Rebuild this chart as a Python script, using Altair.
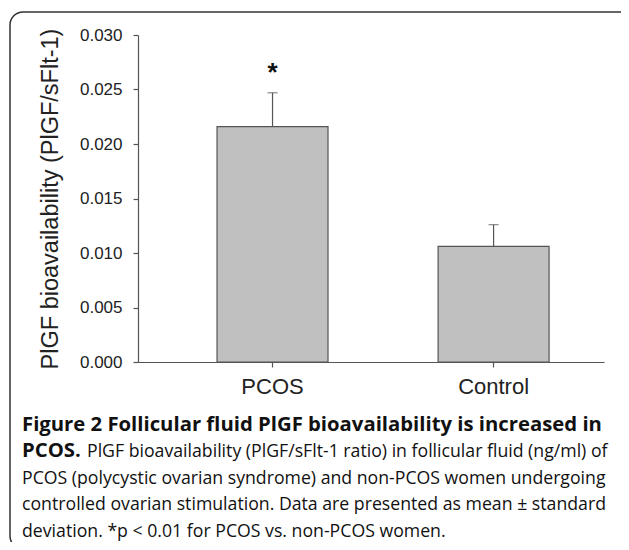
import altair as alt
import pandas as pd

# ---- data ----
groups = ["PCOS", "Control"]
means = [0.0216, 0.0106]
sds = [0.0031, 0.0020]
marks = ["*", ""]
y_ticks = [0.0, 0.005, 0.010, 0.015, 0.020, 0.025, 0.030]
y_title = "PlGF bioavailability (PlGF/sFlt-1)"

caption_bold = ["Figure 2 Follicular fluid PlGF bioavailability is increased in", "PCOS."]
caption_regular = [
    "PlGF bioavailability (PlGF/sFlt-1 ratio) in follicular fluid (ng/ml) of",
    "PCOS (polycystic ovarian syndrome) and non-PCOS women undergoing",
    "controlled ovarian stimulation. Data are presented as mean \u00b1 standard",
    "deviation. *p < 0.01 for PCOS vs. non-PCOS women.",
]

df = pd.DataFrame({
    "group": groups,
    "mean": means,
    "upper": [m + s for m, s in zip(means, sds)],
    "mark": marks,
})

W, H = 466, 327
AX = "#555555"
FONT = "Liberation Sans"
CAP_FONT = "Open Sans"

xenc = alt.X("group:N", sort=groups,
             scale=alt.Scale(paddingInner=0.498, paddingOuter=0.303, align=0.59),
             axis=alt.Axis(title="", labelAngle=0, labelFont=FONT, labelFontSize=22,
                           labelColor="#222222", labelPadding=9, tickSize=5,
                           tickColor=AX, domainColor=AX, tickWidth=1.2, domainWidth=1.2))
yscale = alt.Scale(domain=[0, 0.03], nice=False)

bars = alt.Chart(df).mark_bar(fill="#c0c0c0", stroke=AX, strokeWidth=1.2).encode(
    x=xenc,
    y=alt.Y("mean:Q", scale=yscale,
            axis=alt.Axis(values=y_ticks, format=".3f", grid=False, title=y_title,
                          titleFont=FONT, titleFontSize=23.5, titleFontWeight="normal",
                          titleColor="#222222", titlePadding=17,
                          labelFont=FONT, labelFontSize=17, labelColor="#222222",
                          labelPadding=11, tickSize=5, tickColor=AX, domainColor=AX,
                          tickWidth=1.2, domainWidth=1.2)),
)

err = alt.Chart(df).mark_rule(color=AX, strokeWidth=1.2).encode(
    x=alt.X("group:N", sort=groups), y=alt.Y("mean:Q", scale=yscale), y2="upper:Q")

cap = alt.Chart(df).mark_tick(color=AX, size=10, thickness=1.2).encode(
    x=alt.X("group:N", sort=groups), y=alt.Y("upper:Q", scale=yscale))

star = alt.Chart(df).mark_text(font=FONT, fontSize=26, fontWeight="bold", color="#111111",
                               baseline="alphabetic", dy=-12).encode(
    x=alt.X("group:N", sort=groups), y=alt.Y("upper:Q", scale=yscale), text="mark:N")

# frame
frame = alt.Chart(pd.DataFrame({"k": [0]})).mark_rect(
    filled=False, stroke="#333333", strokeWidth=1.5, cornerRadius=13).encode(
    x=alt.value(-128), x2=alt.value(720), y=alt.value(-23), y2=alt.value(514))

# caption
cb = pd.DataFrame({"t": caption_bold, "px": [-116, -116], "py": [396, 422]})
cr = pd.DataFrame({"t": caption_regular, "px": [-51, -116, -116, -116],
                   "py": [422, 449, 475, 502]})
cap_bold = alt.Chart(cb).mark_text(font=CAP_FONT, fontSize=20.3, fontWeight="bold",
                                   color="#111111", align="left", baseline="alphabetic").encode(
    x=alt.X("px:Q", scale=None), y=alt.Y("py:Q", scale=None), text="t:N")
cap_reg = alt.Chart(cr).mark_text(font=CAP_FONT, fontSize=17.7, color="#111111",
                                  align="left", baseline="alphabetic").encode(
    x=alt.X("px:Q", scale=None), y=alt.Y("py:Q", scale=None), text="t:N")

chart = alt.layer(frame, bars, err, cap, star, cap_bold, cap_reg).properties(
    width=W, height=H,
    autosize=alt.AutoSizeParams(type="none"),
    padding={"left": 130, "top": 27, "right": 17, "bottom": 180},
).configure_view(stroke="transparent")

chart.save("out.html", embed_options={"renderer": "svg", "actions": False})
